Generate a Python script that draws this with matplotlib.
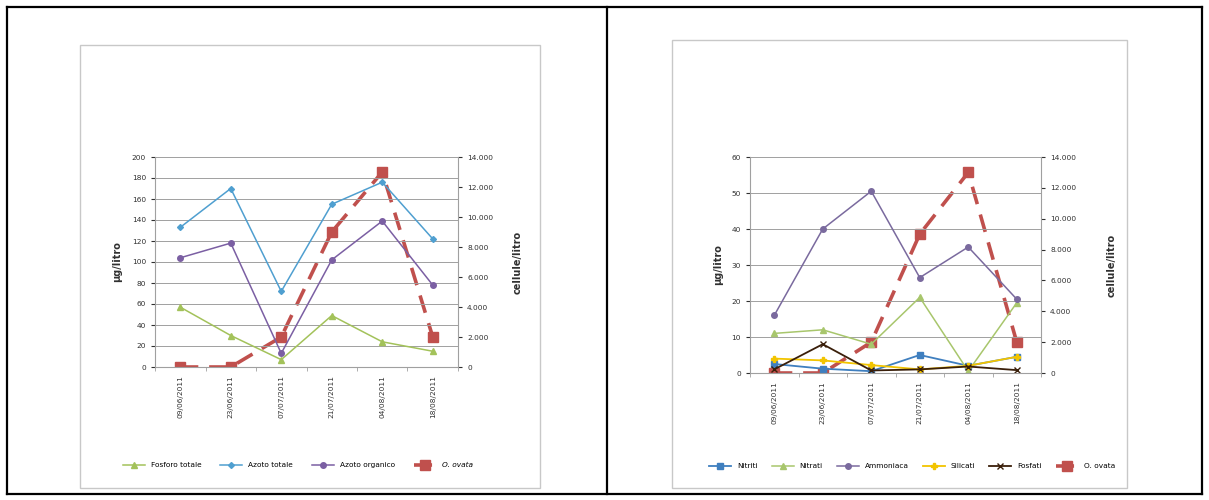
import numpy as np
import matplotlib.pyplot as plt
from matplotlib.ticker import FuncFormatter
from matplotlib.lines import Line2D
from matplotlib.patches import Rectangle

dates = ['09/06/2011', '23/06/2011', '07/07/2011', '21/07/2011', '04/08/2011', '18/08/2011']

# left chart (ug/litro)
fosforo_totale = [57, 30, 7, 49, 24, 15]
azoto_totale = [133, 170, 72, 155, 176, 122]
azoto_organico = [104, 118, 13, 102, 139, 78]
# right chart (ug/litro)
nitriti = [2.5, 1.2, 0.5, 5, 2, 4.5]
nitrati = [11, 12, 8, 21, 0.5, 19.5]
ammoniaca = [16, 40, 50.5, 26.5, 35, 20.5]
silicati = [4, 3.5, 2.2, 1, 2, 4.5]
fosfati = [1, 8, 0.7, 1, 1.8, 0.8]
# cellule/litro, both charts
o_ovata = [0, 0, 2000, 9000, 13000, 2000]

W, H = 1209, 500
fig = plt.figure(figsize=(W / 100, H / 100), dpi=100)
plt.rcParams['font.family'] = ['DejaVu Sans']


def fx(px):
    return px / W


def fy(py):
    return 1 - py / H


# table borders
for x0, x1, y0, y1 in [(7, 1202, 7, 7), (7, 1202, 494, 494), (7, 7, 7, 494),
                       (1202, 1202, 7, 494), (607, 607, 7, 494)]:
    fig.add_artist(Line2D([fx(x0), fx(x1)], [fy(y0), fy(y1)], color='black', lw=1.6))

# chart frames
for x0, x1, y0, y1 in [(80, 540, 45, 488), (672, 1127, 40, 488)]:
    fig.add_artist(Rectangle((fx(x0), fy(y1)), fx(x1 - x0), (y1 - y0) / H,
                             fill=False, edgecolor='#c8c8c8', lw=1.0))

thousands = FuncFormatter(lambda v, p: f'{int(v):,}'.replace(',', '.'))
x = np.arange(len(dates))
tick_col = '#303030'


def setup(ax, ymax, ystep, pad):
    ax.set_xlim(-0.5, len(dates) - 0.5)
    ax.set_ylim(0, ymax)
    ax.set_yticks(np.arange(0, ymax + 1, ystep))
    ax.set_xticks(x)
    ax.set_xticklabels(dates, rotation=90, fontsize=5.3, color=tick_col)
    ax.set_xticks(np.arange(-0.5, len(dates)), minor=True)
    ax.tick_params(axis='x', which='major', length=0, pad=6)
    ax.tick_params(axis='x', which='minor', length=3, color='#a0a0a0')
    ax.tick_params(axis='y', labelsize=5.3, colors=tick_col, length=3)
    ax.grid(axis='y', color='#a0a0a0', lw=0.7)
    ax.set_axisbelow(True)
    for s in ['top', 'right']:
        ax.spines[s].set_visible(False)
    for s in ['left', 'bottom']:
        ax.spines[s].set_color('#a0a0a0')
    ax.set_ylabel('µg/litro', fontsize=7, fontweight='bold', color='#303030', labelpad=pad)


def setup_right(ax2, pad):
    ax2.set_ylim(0, 14000)
    ax2.set_yticks(np.arange(0, 14001, 2000))
    ax2.yaxis.set_major_formatter(thousands)
    ax2.tick_params(axis='y', labelsize=5.3, colors=tick_col, length=3)
    for s in ['top', 'left', 'bottom']:
        ax2.spines[s].set_visible(False)
    ax2.spines['right'].set_color('#a0a0a0')
    ax2.set_ylabel('cellule/litro', fontsize=7, fontweight='bold', color='#303030',
                   labelpad=pad, rotation=90)


red = '#c0504d'
dash = (0, (5, 3))

# ---- left chart
ax = fig.add_axes([fx(155), fy(367), fx(458 - 155), (367 - 157) / H])
setup(ax, 200, 20, 7)
l1, = ax.plot(x, fosforo_totale, color='#a3c25a', lw=1.1, marker='^', ms=4, label='Fosforo totale')
l2, = ax.plot(x, azoto_totale, color='#4f9fd0', lw=1.1, marker='D', ms=3, label='Azoto totale')
l3, = ax.plot(x, azoto_organico, color='#7b5fa3', lw=1.1, marker='o', ms=4, label='Azoto organico')
ax2 = ax.twinx()
setup_right(ax2, 14)
l4, = ax2.plot(x, o_ovata, color=red, lw=2.6, ls=dash, marker='s', ms=7,
               label='O. ovata', zorder=1)
ax.set_zorder(ax2.get_zorder() + 1)
ax.patch.set_visible(False)
leg = fig.legend([l1, l2, l3, l4], ['Fosforo totale', 'Azoto totale', 'Azoto organico', 'O. ovata'],
                 loc='center', bbox_to_anchor=(fx(298), fy(465)), ncol=4, frameon=False,
                 fontsize=5.3, columnspacing=2.6, handlelength=3)
leg.get_texts()[3].set_style('italic')

# ---- right chart
bx = fig.add_axes([fx(750), fy(373), fx(1041 - 750), (373 - 157) / H])
setup(bx, 60, 10, 6)
bx2 = bx.twinx()
setup_right(bx2, 22)
m6, = bx2.plot(x, o_ovata, color=red, lw=2.6, ls=dash, marker='s', ms=7,
               label='O. ovata', zorder=1)
m1, = bx.plot(x, nitriti, color='#3f7fbf', lw=1.3, marker='s', ms=4, label='Nitriti')
m2, = bx.plot(x, nitrati, color='#a8c66c', lw=1.1, marker='^', ms=4, label='Nitrati')
m3, = bx.plot(x, ammoniaca, color='#7a6a9e', lw=1.1, marker='o', ms=4, label='Ammoniaca')
m4, = bx.plot(x, silicati, color='#f2c400', lw=1.3, marker='P', ms=4, label='Silicati')
m5, = bx.plot(x, fosfati, color='#3a1f0a', lw=1.3, marker='x', ms=4, label='Fosfati')
bx.set_zorder(bx2.get_zorder() + 1)
bx.patch.set_visible(False)
leg2 = fig.legend([m1, m2, m3, m4, m5, m6],
                  ['Nitriti', 'Nitrati', 'Ammoniaca', 'Silicati', 'Fosfati', 'O. ovata'],
                  loc='center', bbox_to_anchor=(fx(912), fy(466)), ncol=6, frameon=False,
                  fontsize=5.3, columnspacing=1.9, handlelength=3)

fig.savefig('out.png', dpi=100)
